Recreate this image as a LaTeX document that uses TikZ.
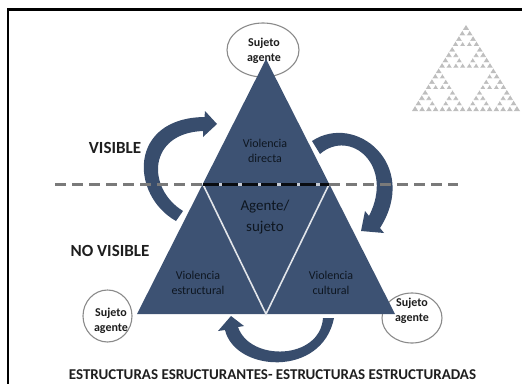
\documentclass[tikz,border=0pt]{standalone}
\usepackage{fontspec}
\setmainfont{Carlito}
\definecolor{navyc}{HTML}{3D5273}
\definecolor{arrowc}{HTML}{384D6D}
\definecolor{innertxt}{HTML}{0E1620}
\definecolor{ringc}{HTML}{8A8A8A}
\definecolor{dashc}{HTML}{7A7A7A}
\definecolor{sierc}{HTML}{BEBEBE}
\definecolor{lblc}{HTML}{1E1E1E}
\newcommand\sierphole[4]{%
  \ifnum#1>0\relax
  \begingroup
    \pgfmathsetmacro\sx{#2}%
    \pgfmathsetmacro\sy{#3}%
    \pgfmathsetmacro\ss{#4}%
    \pgfmathsetmacro\shalf{\ss/2}%
    \pgfmathsetmacro\squart{\ss/4}%
    \pgfmathsetmacro\shh{\ss*0.796/2}%
    \pgfmathsetmacro\sxb{\sx+\shalf}%
    \pgfmathsetmacro\sxc{\sx+\squart}%
    \pgfmathsetmacro\sxd{\sx+\shalf+\squart}%
    \pgfmathsetmacro\syc{\sy-\shh}%
    \filldraw[white, line width=0.7pt, line join=miter] (\sxb,\sy) -- (\sxc,\syc) -- (\sxd,\syc) -- cycle;
    \pgfmathtruncatemacro\slev{#1-1}%
    \sierphole{\slev}{\sx}{\sy}{\shalf}%
    \sierphole{\slev}{\sxb}{\sy}{\shalf}%
    \sierphole{\slev}{\sxc}{\syc}{\shalf}%
  \endgroup
  \fi}
\begin{document}
\begin{tikzpicture}[x=1pt,y=-1pt,
  ring/.style={draw=ringc, line width=1.1pt, fill=white},
  agtxt/.style={align=center, text=lblc, font=\bfseries\fontsize{12}{15.5}\selectfont, inner sep=0pt},
  vtxt/.style={align=center, text=innertxt, font=\fontsize{12}{14.5}\selectfont, inner sep=0pt},
  bigtxt/.style={text=lblc, font=\bfseries\fontsize{17}{20}\selectfont, inner sep=0pt},
  arrowbody/.style={fill=arrowc},
  dashline/.style={draw=dashc, line width=3pt, dash pattern=on 11pt off 6pt}
]
\useasboundingbox (0,0) rectangle (522,383);
% frame
\draw[line width=2.4pt, line cap=rect] (7.8,383) -- (7.8,9.5) -- (522,9.5);
% Sierpinski
\fill[sierc] (412,111) -- (466,25) -- (520,111) -- cycle;
\sierphole{4}{412}{111}{108}
% ellipses and their texts
\draw[ring] (263,50) ellipse [x radius=36pt, y radius=27pt];
\draw[ring] (107.5,316) ellipse [x radius=24.5pt, y radius=26pt];
\draw[ring] (412,318) ellipse [x radius=30pt, y radius=25pt];
\node[agtxt] (sTop) at (264,51) {Sujeto\\agente};
\node[agtxt] (sLeft) at (111,321) {Sujeto\\agente};
\node[agtxt] (sRight) at (412,311) {Sujeto\\agente};
% big triangle
\coordinate (apex) at (266,59);
\coordinate (bl) at (137,314);
\coordinate (br) at (395,314);
\coordinate (bm) at (266,314);
\coordinate (ml) at (202.8,184);
\coordinate (mr) at (329.2,184);
\fill[navyc] (apex) -- (bl) -- (br) -- cycle;
\draw[white!85!navyc, line width=1.6pt] (ml) -- (bm) -- (mr);
% texts inside
\node[vtxt] (vDir) at (265,151) {\color{innertxt}Violencia\\directa};
\node[vtxt, font=\fontsize{15}{21}\selectfont] (vAg) at (265,217) {\color{innertxt}Agente/\\sujeto};
\node[vtxt] (vEst) at (198,283) {\color{innertxt}Violencia\\estructural};
\node[vtxt] (vCul) at (331,283) {\color{innertxt}Violencia\\cultural};
% arrow 1 (left, up to the top)
\fill[arrowbody] (176,221) .. controls (130,195) and (128,118) .. (204.5,117)
  -- (205,111) -- (217,124) -- (203,137) -- (203,131)
  .. controls (148,133) and (146,188) .. (183,211) -- cycle;
% arrow 2 (right, down)
\fill[arrowbody] (312,141) .. controls (356,112) and (420,165) .. (380,228)
  -- (384,233) -- (361,231) -- (365,211) -- (369,216)
  .. controls (395,165) and (350,128) .. (320,154) -- cycle;
% arrow 3 (bottom)
\fill[arrowbody] (334,318) .. controls (322,378) and (235,372) .. (225,330)
  -- (218,331) -- (231,316) -- (244,326) -- (238,327)
  .. controls (250,362) and (320,360) .. (323,318) -- cycle;
% dashed line
\coordinate (dl) at (55,184);
\coordinate (dr) at (458,184);
\draw[dashline] (dl) -- (ml);
\draw[dashline] (mr) -- (dr);
\draw[line width=3pt, draw=white!70!navyc] (ml) -- (mr);
\draw[line width=3pt, draw=black!85!navyc, dash pattern=on 16pt off 3.5pt] (ml) -- (mr);
% labels
\node[bigtxt] (lVis) at (115,147.5) {VISIBLE};
\node[bigtxt] (lNoVis) at (110,251) {NO VISIBLE};
\node[bigtxt, font=\bfseries\fontsize{15}{18}\selectfont] (lBot) at (272.5,375) {ESTRUCTURAS ESRUCTURANTES- ESTRUCTURAS ESTRUCTURADAS};
\end{tikzpicture}
\end{document}
